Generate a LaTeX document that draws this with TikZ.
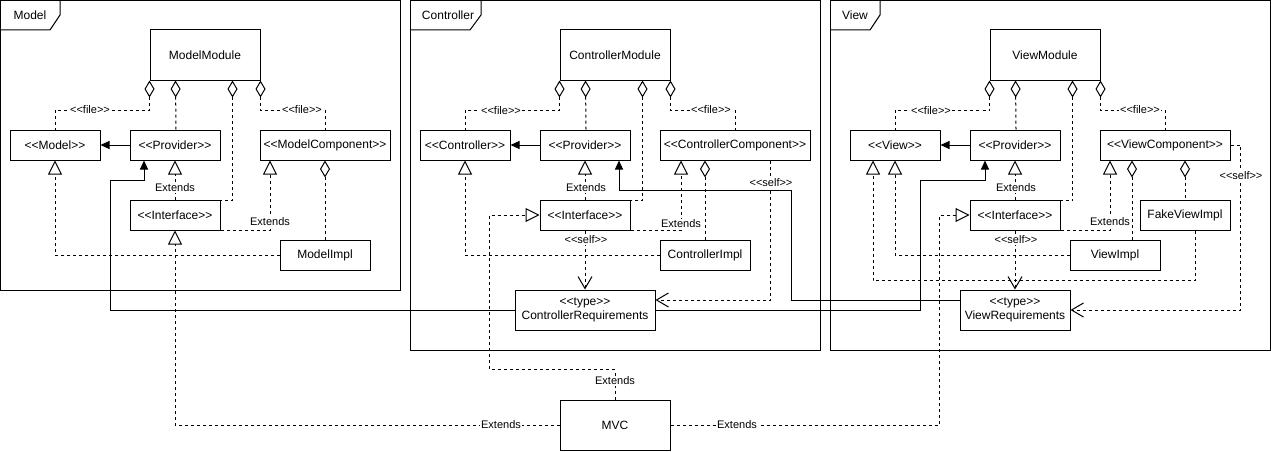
\documentclass[tikz,border=0pt]{standalone}
\usepackage{fontspec}
\setmainfont{Liberation Sans}[Ligatures=TeXOff]
\usetikzlibrary{arrows.meta,calc}
\begin{document}
\begin{tikzpicture}[x=1pt,y=-1pt,
  box/.style={draw, line width=1pt, fill=white, minimum width=90pt, minimum height=30pt, inner sep=0pt, font=\fontsize{12}{14}\selectfont, align=center},
  lbl/.style={fill=white, inner sep=1pt, font=\fontsize{11}{13}\selectfont},
  ftitle/.style={font=\fontsize{12}{14}\selectfont},
  conn/.style={line width=1pt},
  dsh/.style={conn, dash pattern=on 3pt off 3pt},
  agg/.style={dsh, {Diamond[open,length=17pt,width=10pt]}-},
  gen/.style={dsh, -{Triangle[open,length=14pt,width=14pt]}},
  assoc/.style={conn, -{Triangle[length=9pt,width=8pt]}},
  dep/.style={dsh, -{Straight Barb[length=12pt,width=14pt]}}
]
\useasboundingbox (0,0) rectangle (1271,452);
% ---------- frames ----------
\draw[conn] (0.5,0.5) rectangle (400,290);
\draw[conn] (0.5,30) -- (50,30) -- (60,15) -- (60,0.5);
\node[ftitle] at (30,15) {Model};
\draw[conn] (410.5,0.5) rectangle (820,350);
\draw[conn] (410.5,30) -- (470,30) -- (481,15) -- (481,0.5);
\node[ftitle] at (448,15) {Controller};
\draw[conn] (830.5,0.5) rectangle (1270,350);
\draw[conn] (830.5,30) -- (870,30) -- (880,15) -- (880,0.5);
\node[ftitle] at (855,15) {View};
% ---------- Model nodes ----------
\node[box, minimum width=110pt, minimum height=50pt] (mm) at (205,55) {ModelModule};
\node[box] (mmodel) at (55,145) {<<Model>>};
\node[box] (mprov) at (175,145) {<<Provider>>};
\node[box, minimum width=130pt] (mcomp) at (325,145) {<<ModelComponent>>};
\node[box] (mintf) at (175,215) {<<Interface>>};
\node[box] (mimpl) at (325,255) {ModelImpl};
% ---------- Controller nodes ----------
\node[box, minimum width=110pt, minimum height=50pt] (cm) at (615,55) {ControllerModule};
\node[box] (cctrl) at (465,145) {<<Controller>>};
\node[box] (cprov) at (585,145) {<<Provider>>};
\node[box, minimum width=150pt] (ccomp) at (735,145) {<<ControllerComponent>>};
\node[box] (cintf) at (585,215) {<<Interface>>};
\node[box] (cimpl) at (705,255) {ControllerImpl};
\node[box, minimum width=140pt, minimum height=40pt] (creq) at (585,310) {<<type>>\\ControllerRequirements};
% ---------- View nodes ----------
\node[box, minimum width=110pt, minimum height=50pt] (vm) at (1045,55) {ViewModule};
\node[box] (vview) at (895,145) {<<View>>};
\node[box] (vprov) at (1015,145) {<<Provider>>};
\node[box, minimum width=130pt] (vcomp) at (1165,145) {<<ViewComponent>>};
\node[box] (vintf) at (1015,215) {<<Interface>>};
\node[box] (vfake) at (1185,215) {FakeViewImpl};
\node[box] (vimpl) at (1115,255) {ViewImpl};
\node[box, minimum width=110pt, minimum height=40pt] (vreq) at (1015,310) {<<type>>\\ViewRequirements};
% ---------- MVC ----------
\node[box, minimum width=110pt, minimum height=50pt] (mvc) at (615,425) {MVC};
% ---------- Model edges ----------
\draw[agg] (mm.south west) -- ++(0,30) -| (mmodel.north);
\draw[agg] ([xshift=26pt]mm.south west) -- ([xshift=1pt]mprov.north);
\draw[agg] ([xshift=-28pt]mm.south east) |- ([yshift=-1pt]mintf.north east);
\draw[agg] (mm.south east) -- ++(0,30) -| (mcomp.north);
\draw[assoc] (mprov.west) -- (mmodel.east);
\draw[gen] (mintf.north) -- (mprov.south);
\draw[gen] (mintf.south east) -| ([xshift=-55pt]mcomp.south);
\draw[gen] (mimpl.west) -| (mmodel.south);
\draw[agg] (mcomp.south) -- (mimpl.north);
% ---------- Controller edges ----------
\draw[agg] (cm.south west) -- ++(0,30) -| (cctrl.north);
\draw[agg] ([xshift=26pt]cm.south west) -- ([xshift=1pt]cprov.north);
\draw[agg] ([xshift=-28pt]cm.south east) |- ([yshift=-1pt]cintf.north east);
\draw[agg] (cm.south east) -- ++(0,30) -| (ccomp.north);
\draw[assoc] (cprov.west) -- (cctrl.east);
\draw[gen] (cintf.north) -- (cprov.south);
\draw[gen] (cintf.south east) -| ([xshift=-54pt]ccomp.south);
\draw[gen] (cimpl.west) -| (cctrl.south);
\draw[agg] ([xshift=-30pt]ccomp.south) -- (cimpl.north);
\draw[dep] ([xshift=35pt]ccomp.south) |- ([yshift=10pt]creq.east);
\draw[dep] (cintf.south) -- (creq.north);
% ---------- View edges ----------
\draw[agg] (vm.south west) -- ++(0,30) -| (vview.north);
\draw[agg] ([xshift=26pt]vm.south west) -- ([xshift=1pt]vprov.north);
\draw[agg] ([xshift=-28pt]vm.south east) |- ([yshift=-1pt]vintf.north east);
\draw[agg] (vm.south east) -- ++(0,30) -| (vcomp.north);
\draw[assoc] (vprov.west) -- (vview.east);
\draw[gen] (vintf.north) -- (vprov.south);
\draw[gen] (vintf.south east) -| ([xshift=-55pt]vcomp.south);
\draw[agg] ([xshift=-33pt]vcomp.south) -- ([xshift=17pt]vimpl.north);
\draw[agg] ([xshift=20pt]vcomp.south) -- (vfake.north);
\draw[gen] (vimpl.west) -| (vview.south);
\draw[gen] ([xshift=10pt]vfake.south) -- ++(0,50) -| ([xshift=-22pt]vview.south);
\draw[dep] (vintf.south) -- (vreq.north);
\draw[dep] (vcomp.east) -- ++(10,0) |- (vreq.east);
% ---------- cross-module solid associations ----------
\draw[assoc] (creq.west) -- (110,310) -- (110,180) -| ([xshift=-31pt]mprov.south);
\draw[assoc] (creq.east) -- (920,310) -- (920,180) -| ([xshift=-30pt]vprov.south);
\draw[assoc] ([yshift=10pt]vreq.west) -- (791,300) -- (791,190) -| ([xshift=34pt]cprov.south);
% ---------- MVC extends ----------
\draw[gen] (mvc.west) -| (mintf.south);
\draw[gen] (mvc.north) -- ++(0,-30) -| ([xshift=-50pt]cintf.west) -- (cintf.west);
\draw[gen] (mvc.east) -| ([xshift=-30pt]vintf.west) -- (vintf.west);
% ---------- labels ----------
\node[lbl] at (90,110) {<<file>>};
\node[lbl] at (302,110) {<<file>>};
\node[lbl] at (175,188) {Extends};
\node[lbl] at (270,222) {Extends};
\node[lbl] at (501,111) {<<file>>};
\node[lbl] at (711,110) {<<file>>};
\node[lbl] at (586,188) {Extends};
\node[lbl] at (681,224) {Extends};
\node[lbl] at (771,183) {<<self>>};
\node[lbl] at (586,240) {<<self>>};
\node[lbl] at (931,111) {<<file>>};
\node[lbl] at (1140,110) {<<file>>};
\node[lbl] at (1016,188) {Extends};
\node[lbl] at (1110,222) {Extends};
\node[lbl] at (1016,240) {<<self>>};
\node[lbl] at (1241,176) {<<self>>};
\node[lbl] at (615,381) {Extends};
\node[lbl] at (501,425) {Extends};
\node[lbl] at (737,425) {Extends};
\end{tikzpicture}
\end{document}
